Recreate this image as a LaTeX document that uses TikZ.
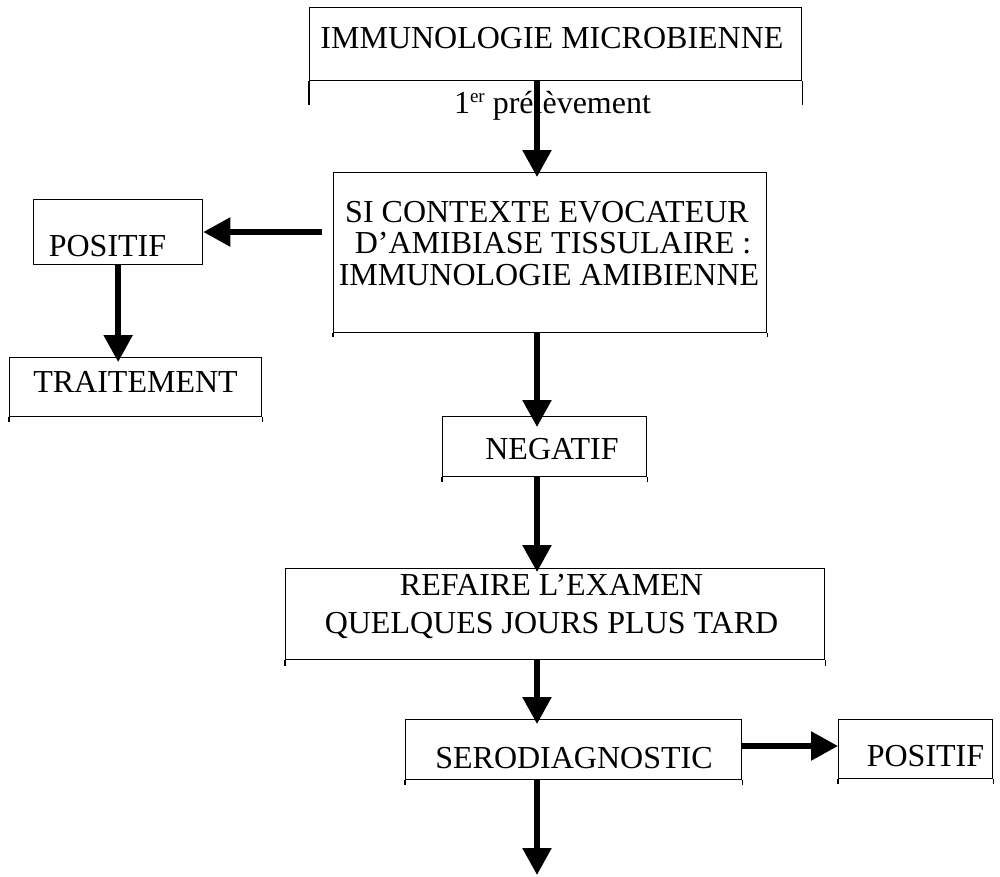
\documentclass[tikz,border=0pt]{standalone}
\usepackage{fontspec}
\setmainfont{Liberation Serif}
\usetikzlibrary{arrows.meta}
\begin{document}
\begin{tikzpicture}[x=1pt,y=-1pt,
  boxline/.style={line width=1.3pt},
  box/.style={draw, boxline, inner sep=0pt, anchor=north west},
  legs/.style={append after command={
    (\tikzlastnode.south west) edge[boxline] ++(0pt,-#1)
    (\tikzlastnode.south east) edge[boxline] ++(0pt,-#1)}},
  txt/.style={inner sep=0pt, anchor=base, font=\fontsize{32}{38}\selectfont},
  arr/.style={line width=5.5pt, -{Triangle[width=28pt,length=27pt]}},
]
\useasboundingbox (0,0) rectangle (1000,876);

% boxes
\node[box, minimum width=492pt, minimum height=73pt, legs=24pt] (top) at (309,7) {};
\node[box, minimum width=433pt, minimum height=160pt, legs=4pt] (ctx) at (333,172) {};
\node[box, minimum width=169pt, minimum height=65pt] (pos1) at (33,199) {};
\node[box, minimum width=252pt, minimum height=59pt, legs=5pt] (trt) at (9,357) {};
\node[box, minimum width=204pt, minimum height=60pt, legs=5pt] (neg) at (442,416) {};
\node[box, minimum width=539pt, minimum height=91pt, legs=6pt] (ref) at (285,568) {};
\node[box, minimum width=336pt, minimum height=60pt, legs=5pt] (sero) at (405,719) {};
\node[box, minimum width=154pt, minimum height=59pt, legs=5pt] (pos2) at (838,719) {};

% texts
\node[txt] (topt) at (552,48) {IMMUNOLOGIE MICROBIENNE};
\node[txt] (prel) at (552.5,113) {1\raisebox{11pt}{\fontsize{19}{19}\selectfont er} prélèvement};
\node[txt] (ctx1) at (547,222) {SI CONTEXTE EVOCATEUR};
\node[txt] (ctx2) at (553,253) {D’AMIBIASE TISSULAIRE :};
\node[txt] (ctx3) at (549,285) {IMMUNOLOGIE AMIBIENNE};
\node[txt] (pos1t) at (107.5,256) {POSITIF};
\node[txt] (trtt) at (135.5,392) {TRAITEMENT};
\node[txt] (negt) at (552,459) {NEGATIF};
\node[txt] (ref1) at (551.5,595) {REFAIRE L’EXAMEN};
\node[txt] (ref2) at (551.5,633) {QUELQUES JOURS PLUS TARD};
\node[txt] (serot) at (574,768) {SERODIAGNOSTIC};
\node[txt] (pos2t) at (925.5,766) {POSITIF};

% connectors
\coordinate (col) at (537,0);
\coordinate (lstart) at (322,232);
\coordinate (row) at (0,746);
\coordinate (tail) at (537,875);

\draw[arr, shorten >=-5pt] (top.south -| col) -- (ctx.north -| col);
\draw[arr] (lstart) -- (lstart -| pos1.east);
\draw[arr, shorten >=-5pt] (pos1.south) -- (pos1.south |- trt.north);
\draw[arr, shorten >=-11pt] (ctx.south -| col) -- (neg.north -| col);
\draw[arr, shorten >=-4pt] (neg.south -| col) -- (ref.north -| col);
\draw[arr, shorten >=-5pt] (ref.south -| col) -- (sero.north -| col);
\draw[arr] (sero.east |- row) -- (pos2.west |- row);
\draw[arr] (sero.south -| col) -- (tail);
\end{tikzpicture}
\end{document}
